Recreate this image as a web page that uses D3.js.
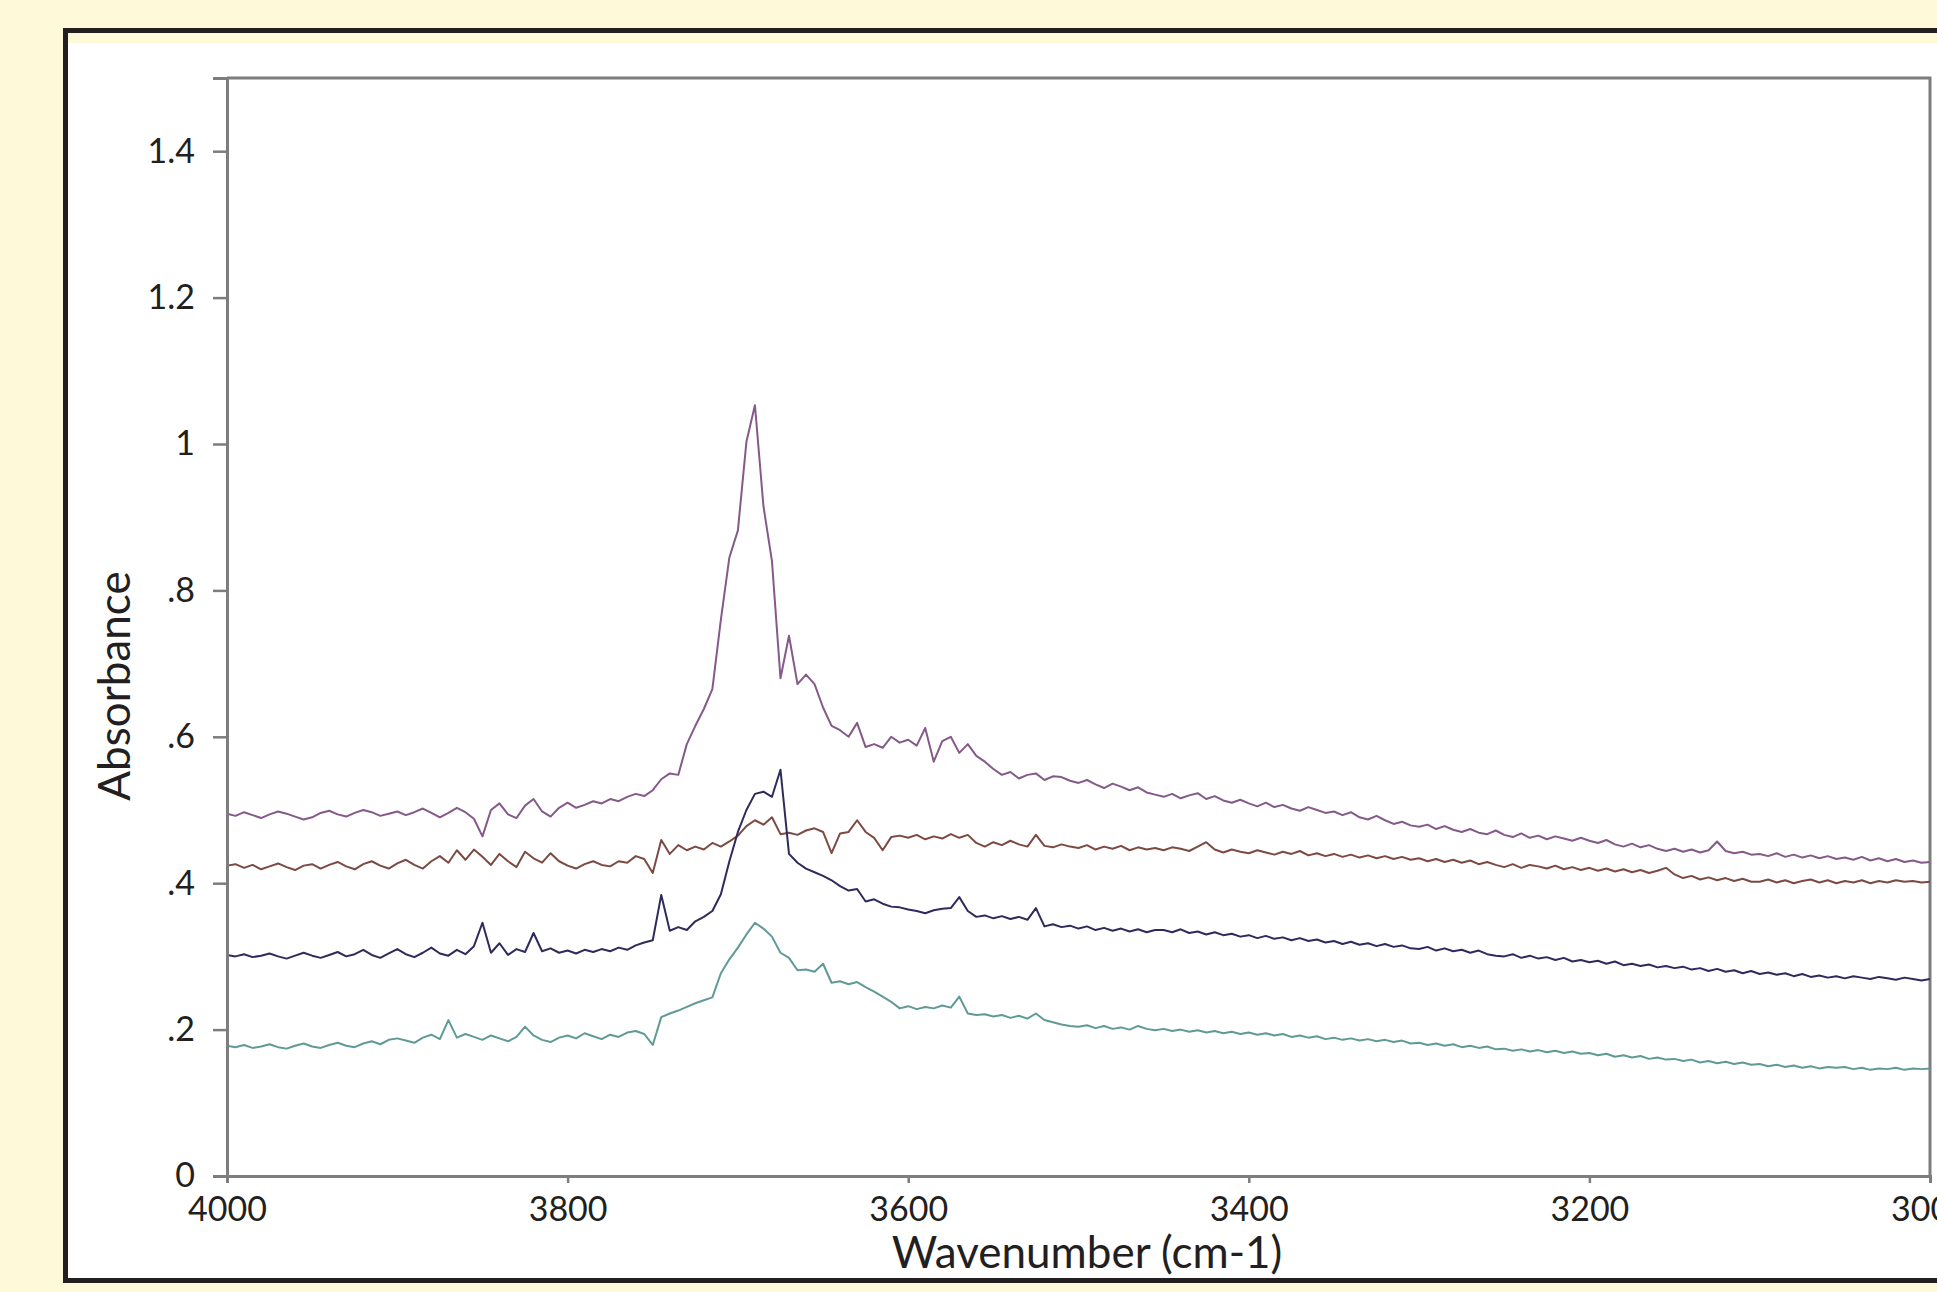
<!DOCTYPE html>
<html>
<head>
<meta charset="utf-8">
<script src="https://cdn.jsdelivr.net/npm/d3@7"></script>
<style>
  html, body { margin: 0; padding: 0; background: #fef9d8; }
  svg { display: block; }
  text { font-family: Lato, "Open Sans", sans-serif; fill: #231f20; }
</style>
</head>
<body>
<svg id="chart" width="1937" height="1292"></svg>
<script>
// ---------- DATA ----------
const xTicks = [4000, 3800, 3600, 3400, 3200, 3000];
const xTickLabels = ["4000", "3800", "3600", "3400", "3200", "3000"];
const yTicks = [0, 0.2, 0.4, 0.6, 0.8, 1.0, 1.2, 1.4];
const yTickLabels = ["0", ".2", ".4", ".6", ".8", "1", "1.2", "1.4"];
const xTitle = "Wavenumber (cm-1)";
const yTitle = "Absorbance";

// sampling grid: 4000 -> 3000 cm-1, every 5 cm-1
const wavenumbers = d3.range(4000, 2999, -5);

const purpleValues = [
  0.495,0.492,0.497,0.493,0.489,0.494,0.498,0.495,0.491,0.487,
  0.490,0.496,0.499,0.494,0.491,0.496,0.500,0.497,0.492,0.495,
  0.498,0.493,0.497,0.502,0.496,0.490,0.496,0.503,0.497,0.488,
  0.464,0.500,0.509,0.494,0.489,0.506,0.515,0.498,0.491,0.503,
  0.510,0.503,0.507,0.512,0.509,0.515,0.512,0.518,0.522,0.519,
  0.527,0.542,0.550,0.548,0.590,0.615,0.638,0.665,0.760,0.845,
  0.882,1.003,1.053,0.915,0.840,0.680,0.738,0.672,0.685,0.672,
  0.640,0.615,0.609,0.600,0.619,0.586,0.590,0.585,0.600,0.592,
  0.596,0.588,0.612,0.566,0.594,0.600,0.578,0.590,0.574,0.566,
  0.556,0.548,0.552,0.543,0.548,0.550,0.541,0.546,0.545,0.540,
  0.537,0.541,0.535,0.530,0.536,0.532,0.527,0.531,0.524,0.521,
  0.518,0.522,0.516,0.520,0.523,0.515,0.519,0.513,0.510,0.514,
  0.509,0.505,0.510,0.504,0.507,0.502,0.499,0.504,0.500,0.496,
  0.498,0.493,0.497,0.490,0.487,0.492,0.486,0.481,0.484,0.479,
  0.477,0.480,0.474,0.478,0.473,0.470,0.474,0.469,0.467,0.472,
  0.466,0.463,0.468,0.462,0.465,0.460,0.464,0.461,0.458,0.462,
  0.458,0.455,0.459,0.453,0.450,0.454,0.449,0.452,0.447,0.444,
  0.447,0.443,0.446,0.442,0.445,0.457,0.444,0.441,0.443,0.439,
  0.440,0.437,0.441,0.436,0.439,0.435,0.438,0.434,0.437,0.433,
  0.435,0.432,0.436,0.431,0.434,0.430,0.433,0.429,0.431,0.428,
  0.429
];

const brownValues = [
  0.424,0.426,0.421,0.425,0.419,0.423,0.427,0.422,0.418,0.424,
  0.426,0.420,0.425,0.429,0.423,0.419,0.426,0.430,0.424,0.420,
  0.427,0.432,0.425,0.420,0.430,0.437,0.428,0.445,0.432,0.446,
  0.436,0.425,0.440,0.430,0.422,0.443,0.434,0.428,0.441,0.430,
  0.424,0.420,0.426,0.430,0.425,0.423,0.430,0.428,0.437,0.433,
  0.414,0.459,0.440,0.452,0.445,0.450,0.446,0.455,0.450,0.457,
  0.465,0.478,0.486,0.480,0.490,0.467,0.469,0.466,0.472,0.475,
  0.470,0.441,0.468,0.470,0.486,0.470,0.462,0.445,0.463,0.465,
  0.462,0.466,0.460,0.464,0.461,0.467,0.462,0.466,0.455,0.450,
  0.456,0.452,0.458,0.453,0.450,0.466,0.451,0.449,0.453,0.450,
  0.448,0.452,0.446,0.450,0.447,0.451,0.445,0.449,0.446,0.448,
  0.445,0.449,0.447,0.444,0.450,0.456,0.446,0.442,0.446,0.443,
  0.441,0.445,0.442,0.439,0.443,0.440,0.444,0.438,0.441,0.437,
  0.440,0.436,0.439,0.435,0.438,0.434,0.437,0.433,0.436,0.432,
  0.434,0.430,0.433,0.429,0.432,0.428,0.431,0.426,0.429,0.425,
  0.422,0.426,0.421,0.425,0.423,0.420,0.424,0.419,0.422,0.418,
  0.421,0.417,0.420,0.416,0.419,0.415,0.418,0.414,0.417,0.421,
  0.412,0.407,0.410,0.405,0.408,0.404,0.407,0.403,0.406,0.402,
  0.402,0.405,0.401,0.404,0.400,0.403,0.405,0.401,0.404,0.400,
  0.403,0.401,0.404,0.400,0.403,0.401,0.404,0.402,0.403,0.401,
  0.402
];

const navyValues = [
  0.302,0.300,0.303,0.299,0.301,0.304,0.300,0.297,0.301,0.305,
  0.301,0.298,0.302,0.306,0.300,0.303,0.309,0.302,0.298,0.304,
  0.310,0.303,0.299,0.305,0.312,0.304,0.301,0.309,0.303,0.314,
  0.346,0.305,0.318,0.302,0.310,0.306,0.332,0.307,0.311,0.305,
  0.308,0.304,0.309,0.306,0.310,0.307,0.312,0.309,0.315,0.319,
  0.322,0.384,0.335,0.340,0.336,0.348,0.354,0.362,0.385,0.430,
  0.470,0.500,0.522,0.525,0.518,0.555,0.440,0.428,0.420,0.415,
  0.410,0.404,0.396,0.390,0.392,0.375,0.378,0.372,0.368,0.367,
  0.364,0.362,0.359,0.363,0.365,0.366,0.381,0.362,0.354,0.356,
  0.352,0.355,0.351,0.354,0.350,0.366,0.341,0.344,0.340,0.342,
  0.338,0.341,0.336,0.339,0.335,0.338,0.334,0.337,0.333,0.336,
  0.336,0.333,0.337,0.332,0.334,0.330,0.333,0.329,0.331,0.327,
  0.329,0.325,0.328,0.324,0.326,0.322,0.325,0.321,0.323,0.319,
  0.321,0.317,0.320,0.316,0.318,0.314,0.317,0.313,0.315,0.311,
  0.310,0.313,0.308,0.311,0.307,0.309,0.305,0.308,0.303,0.301,
  0.300,0.303,0.298,0.301,0.297,0.299,0.295,0.298,0.293,0.295,
  0.292,0.294,0.290,0.293,0.288,0.290,0.287,0.289,0.285,0.287,
  0.284,0.286,0.282,0.284,0.280,0.283,0.279,0.281,0.277,0.280,
  0.276,0.278,0.275,0.277,0.273,0.276,0.272,0.274,0.271,0.273,
  0.270,0.273,0.271,0.269,0.272,0.270,0.268,0.271,0.269,0.267,
  0.269
];

const tealValues = [
  0.178,0.176,0.179,0.175,0.177,0.180,0.176,0.174,0.178,0.181,
  0.177,0.175,0.179,0.182,0.178,0.176,0.181,0.184,0.180,0.186,
  0.188,0.185,0.182,0.189,0.193,0.187,0.213,0.189,0.194,0.190,
  0.186,0.192,0.188,0.184,0.190,0.204,0.192,0.186,0.183,0.189,
  0.192,0.188,0.195,0.191,0.187,0.193,0.190,0.196,0.198,0.194,
  0.179,0.217,0.222,0.226,0.231,0.236,0.240,0.244,0.277,0.296,
  0.312,0.330,0.346,0.338,0.327,0.305,0.298,0.281,0.282,0.279,
  0.290,0.264,0.266,0.262,0.265,0.258,0.252,0.245,0.238,0.229,
  0.232,0.228,0.231,0.229,0.233,0.230,0.245,0.222,0.220,0.221,
  0.218,0.220,0.216,0.219,0.215,0.222,0.213,0.210,0.207,0.205,
  0.204,0.206,0.202,0.205,0.201,0.203,0.200,0.205,0.201,0.199,
  0.201,0.198,0.200,0.197,0.199,0.196,0.198,0.195,0.197,0.194,
  0.196,0.193,0.195,0.192,0.194,0.190,0.192,0.189,0.191,0.187,
  0.189,0.186,0.188,0.185,0.187,0.184,0.186,0.183,0.185,0.181,
  0.182,0.179,0.181,0.178,0.180,0.176,0.178,0.175,0.177,0.173,
  0.174,0.171,0.173,0.170,0.172,0.169,0.171,0.168,0.170,0.167,
  0.168,0.165,0.167,0.163,0.165,0.162,0.164,0.160,0.162,0.159,
  0.160,0.157,0.159,0.155,0.157,0.154,0.156,0.153,0.155,0.152,
  0.153,0.150,0.152,0.149,0.151,0.148,0.150,0.147,0.149,0.148,
  0.149,0.146,0.148,0.145,0.147,0.146,0.148,0.145,0.147,0.146,
  0.147
];

const seriesNames = ["purple", "brown", "navy", "teal"];
const seriesValues = [purpleValues, brownValues, navyValues, tealValues];
const seriesColors = ["#85598a", "#7c4a42", "#2e2b5c", "#5f9a96"];

// ---------- LAYOUT ----------
const svg = d3.select("#chart");
const W = 1937, H = 1292;
const plot = { left: 227, right: 1930, top: 78, bottom: 1176 };

// panel: black frame, thin yellow strip, white interior
svg.append("rect").attr("x", 0).attr("y", 0).attr("width", W).attr("height", H).attr("fill", "#fef9d8");
svg.append("rect").attr("x", 63).attr("y", 28).attr("width", W - 63 + 10).attr("height", 1283 - 28).attr("fill", "#231f20");
svg.append("rect").attr("x", 68).attr("y", 33).attr("width", W - 68 + 10).attr("height", 1278 - 33).attr("fill", "#fef9d8");
svg.append("rect").attr("x", 68).attr("y", 43).attr("width", W - 68 + 10).attr("height", 1278 - 43).attr("fill", "#ffffff");

const x = d3.scaleLinear().domain([4000, 3000]).range([plot.left, plot.right]);
const y = d3.scaleLinear().domain([0, 1.5]).range([plot.bottom, plot.top]);

// frame (top & right)
svg.append("path")
  .attr("d", `M${plot.left},${plot.top}H${plot.right}V${plot.bottom}`)
  .attr("fill", "none").attr("stroke", "#7d7d7d").attr("stroke-width", 3);

// series
const line = d3.line()
  .x((d, i) => x(wavenumbers[i]))
  .y(d => y(d));

const g = svg.append("g");
seriesValues.forEach((vals, k) => {
  g.append("path")
    .datum(vals)
    .attr("class", "series " + seriesNames[k])
    .attr("d", line)
    .attr("fill", "none")
    .attr("stroke", seriesColors[k])
    .attr("stroke-width", 2)
    .attr("stroke-linejoin", "round");
});

// axes
const yAxis = d3.axisLeft(y)
  .tickValues(yTicks)
  .tickFormat((d, i) => yTickLabels[i])
  .tickSize(14).tickPadding(18);
const gy = svg.append("g").attr("transform", `translate(${plot.left},0)`).call(yAxis);

const xAxis = d3.axisBottom(x)
  .tickValues(xTicks)
  .tickFormat((d, i) => xTickLabels[i])
  .tickSize(7).tickPadding(14);
const gx = svg.append("g").attr("transform", `translate(0,${plot.bottom})`).call(xAxis);

[gx, gy].forEach(a => {
  a.select(".domain").attr("stroke", "#7d7d7d").attr("stroke-width", 3);
  a.selectAll(".tick line").attr("stroke", "#7d7d7d").attr("stroke-width", 2.5);
  a.selectAll(".tick text")
    .style("font-family", "Lato, 'Open Sans', sans-serif")
    .style("font-size", "34px").attr("fill", "#231f20");
});

// titles
svg.append("text")
  .attr("x", 1087).attr("y", 1268)
  .attr("text-anchor", "middle")
  .style("font-size", "44px")
  .text(xTitle);

svg.append("text")
  .attr("transform", "translate(130,686) rotate(-90)")
  .attr("text-anchor", "middle")
  .style("font-size", "44px")
  .text(yTitle);
</script>
</body>
</html>
